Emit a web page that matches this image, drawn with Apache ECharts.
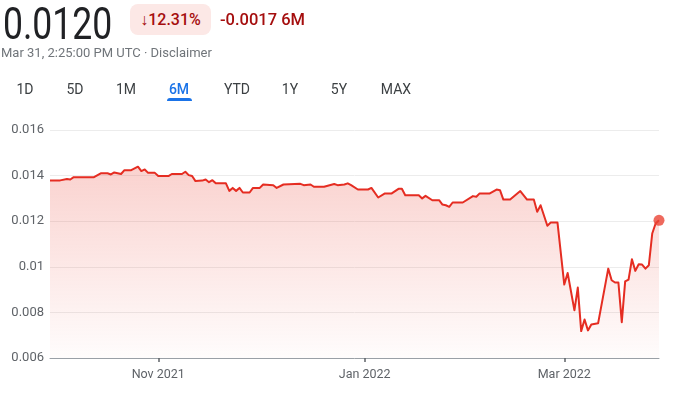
<!DOCTYPE html>
<html>
<head>
<meta charset="utf-8">
<script src="https://cdn.jsdelivr.net/npm/echarts@6/dist/echarts.min.js"></script>
<style>
    body{margin:0;background:#fff;font-family:Roboto,Arial,sans-serif;}
    #wrap{position:relative;width:690px;height:399px;overflow:hidden;}
    #chart{position:absolute;left:0;top:0;width:690px;height:399px;}
    .abs{position:absolute;white-space:nowrap;}
    #price{left:3px;top:4px;font-size:45px;line-height:40px;height:40px;color:#202124;transform:scaleX(0.79);transform-origin:left top;}
    #badge{left:130px;top:4px;width:81px;height:31px;border-radius:8px;background:#fce8e6;color:#a50e0e;
        font-size:16px;font-weight:500;display:flex;align-items:center;justify-content:center;}
    #change{left:220px;top:10px;font-size:16.5px;line-height:20px;font-weight:500;color:#a50e0e;}
    #sub{left:1px;top:45px;font-size:13px;line-height:15px;color:#70757a;}
    .tab{top:80px;font-size:14px;line-height:18px;color:#3c4043;transform:translateX(-50%);}
    .tab.on{color:#1a73e8;font-weight:500;}
    #bar{left:167px;top:98px;width:25px;height:3px;border-radius:3px 3px 0 0;background:#1a73e8;}
</style>
</head>
<body>
<div id="wrap">
    <div id="chart"></div>
    <div id="price" class="abs">0.0120</div>
    <div id="badge" class="abs">↓12.31%</div>
    <div id="change" class="abs">-0.0017 6M</div>
    <div id="sub" class="abs">Mar 31, 2:25:00 PM UTC · Disclaimer</div>
    <div id="tabs"></div>
    <div id="bar" class="abs"></div>
</div>
<script>
//dates and prices
var dates=['2021-09-30','2021-10-03','2021-10-05','2021-10-06','2021-10-07','2021-10-13','2021-10-15','2021-10-17',
    '2021-10-18','2021-10-19','2021-10-21','2021-10-22','2021-10-24','2021-10-26','2021-10-27','2021-10-28',
    '2021-10-29','2021-10-31','2021-11-01','2021-11-04','2021-11-05','2021-11-08','2021-11-09','2021-11-10',
    '2021-11-11','2021-11-12','2021-11-14','2021-11-15','2021-11-16','2021-11-17','2021-11-18','2021-11-21',
    '2021-11-22','2021-11-23','2021-11-24','2021-11-25','2021-11-26','2021-11-28','2021-11-29','2021-12-01',
    '2021-12-02','2021-12-05','2021-12-06','2021-12-08','2021-12-13','2021-12-14','2021-12-16','2021-12-17',
    '2021-12-20','2021-12-23','2021-12-24','2021-12-26','2021-12-27','2021-12-28','2021-12-30','2022-01-02',
    '2022-01-03','2022-01-05','2022-01-07','2022-01-09','2022-01-11','2022-01-12','2022-01-13','2022-01-17',
    '2022-01-18','2022-01-19','2022-01-21','2022-01-23','2022-01-24','2022-01-25','2022-01-26','2022-01-27',
    '2022-01-30','2022-02-02','2022-02-03','2022-02-04','2022-02-07','2022-02-09','2022-02-10','2022-02-11',
    '2022-02-13','2022-02-16','2022-02-18','2022-02-20','2022-02-21','2022-02-22','2022-02-24','2022-02-25',
    '2022-02-27','2022-03-01','2022-03-02','2022-03-04','2022-03-05','2022-03-06','2022-03-07','2022-03-08',
    '2022-03-09','2022-03-11','2022-03-14','2022-03-15','2022-03-16','2022-03-17','2022-03-18','2022-03-19',
    '2022-03-20','2022-03-21','2022-03-22','2022-03-23','2022-03-24','2022-03-25','2022-03-26','2022-03-27',
    '2022-03-28','2022-03-29'];
var prices=[0.01379,0.01379,0.01385,0.01383,0.01393,0.01393,0.01410,0.01410,
    0.01405,0.01414,0.01407,0.01424,0.01424,0.01439,0.01420,0.01427,
    0.01412,0.01412,0.01398,0.01398,0.01407,0.01407,0.01417,0.01402,
    0.01398,0.01376,0.01378,0.01383,0.01371,0.01380,0.01366,0.01366,
    0.01333,0.01346,0.01333,0.01346,0.01326,0.01326,0.01346,0.01346,
    0.01361,0.01358,0.01346,0.01361,0.01364,0.01358,0.01361,0.01351,
    0.01351,0.01363,0.01358,0.01361,0.01366,0.01358,0.01339,0.01339,
    0.01346,0.01304,0.01322,0.01322,0.01342,0.01342,0.01314,0.01314,
    0.01300,0.01311,0.01292,0.01292,0.01273,0.01270,0.01263,0.01282,
    0.01282,0.01310,0.01307,0.01322,0.01322,0.01339,0.01336,0.01295,
    0.01295,0.01332,0.01295,0.01295,0.01241,0.01270,0.01180,0.01194,
    0.01194,0.00922,0.00973,0.00809,0.00909,0.00718,0.00769,0.00721,
    0.00747,0.00752,0.00992,0.00941,0.00931,0.00931,0.00757,0.00936,
    0.00944,0.01033,0.00982,0.01011,0.01010,0.00992,0.01007,0.01146,
    0.01190,0.01204];
//x axis ticks
var tickDates=['2021-11-01','2022-01-01','2022-03-01'];
var tickLabels=['Nov 2021','Jan 2022','Mar 2022'];
var tabNames=['1D','5D','1M','6M','YTD','1Y','5Y','MAX'];
var tabCenters=[25,75,126,179,237,290,339,396];

//date string -> timestamp (UTC)
function toTime(s){
    var p=s.split('-');
    return Date.UTC(Number(p[0]),Number(p[1])-1,Number(p[2]));
}

function drawTabs(){
    var box=document.getElementById('tabs');
    for(var i=0;i<tabNames.length;i++){
        var s=document.createElement('div');
        s.className='abs tab'+(tabNames[i]=='6M'?' on':'');
        s.style.left=tabCenters[i]+'px';
        s.textContent=tabNames[i];
        box.appendChild(s);
    }
}

function loadChart(){
    var mychart=echarts.init(document.getElementById('chart'));
    var points=[];
    for(var i=0;i<dates.length;i++){
        points.push([toTime(dates[i]),prices[i]]);
    }
    var tickValues=[];
    for(var j=0;j<tickDates.length;j++){
        tickValues.push(toTime(tickDates[j]));
    }
    var last=points[points.length-1];
    var option={
        animation:false,
        grid:{left:50,right:31,top:130,bottom:41},
        xAxis:{
            type:'value',
            min:points[0][0],
            max:last[0],
            axisLine:{show:true,lineStyle:{color:'#9aa0a6',width:1}},
            axisTick:{show:true,length:4,customValues:tickValues,lineStyle:{color:'#5f6368',width:1.5}},
            axisLabel:{
                customValues:tickValues,
                color:'#5f6368',
                fontSize:12.5,
                fontFamily:'Roboto',
                margin:10,
                formatter:function(v){
                    for(var k=0;k<tickValues.length;k++){
                        if(Math.abs(tickValues[k]-v)<43200000) return tickLabels[k];
                    }
                    return '';
                }
            },
            splitLine:{show:false}
        },
        yAxis:{
            type:'value',
            min:0.006,
            max:0.016,
            interval:0.002,
            axisLine:{show:false},
            axisTick:{show:false},
            axisLabel:{color:'#5f6368',fontSize:13,fontFamily:'Roboto',margin:6},
            splitLine:{lineStyle:{color:'#ececec',width:1}}
        },
        series:[{
            type:'line',
            data:points,
            showSymbol:false,
            lineStyle:{color:'#e52d22',width:2,join:'round'},
            areaStyle:{
                origin:'start',
                color:new echarts.graphic.LinearGradient(0,0,0,1,[
                    {offset:0,color:'rgba(234,67,53,0.34)'},
                    {offset:1,color:'rgba(234,67,53,0.02)'}
                ])
            }
        },{
            type:'scatter',
            data:[last],
            symbolSize:11,
            itemStyle:{color:'#ea4335'},
            z:5
        }]
    };
    mychart.setOption(option);
}

drawTabs();
loadChart();
</script>
</body>
</html>
